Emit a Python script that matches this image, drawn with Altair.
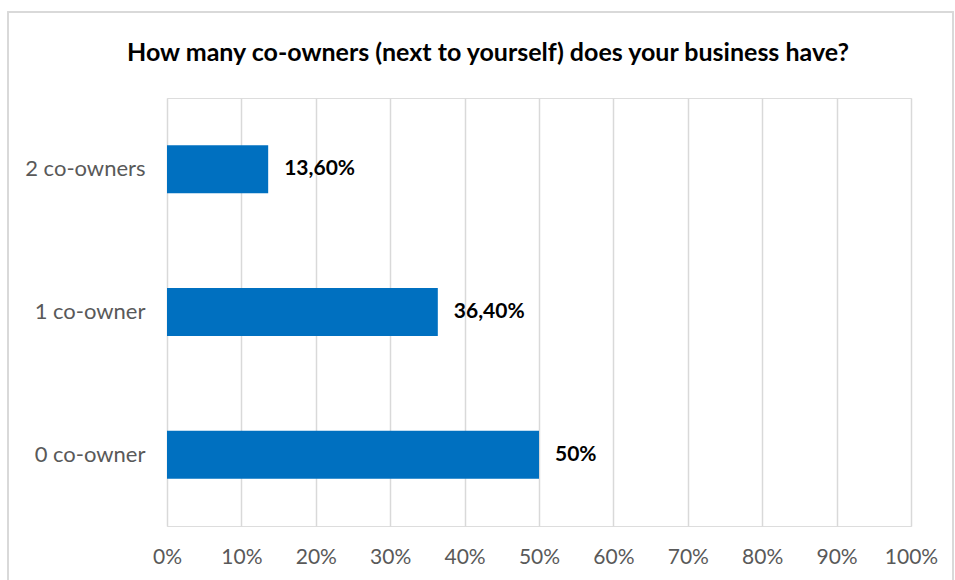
import altair as alt
import pandas as pd

categories = ["2 co-owners", "1 co-owner", "0 co-owner"]
values = [0.136, 0.364, 0.50]
labels = ["13,60%", "36,40%", "50%"]
title_text = "How many co-owners (next to yourself) does your business have?"

df = pd.DataFrame({"cat": categories, "val": values, "lab": labels})
tdf = pd.DataFrame({"t": [title_text]})

FONT = "Lato"

y_enc = alt.Y("cat:N", sort=categories, title=None,
              scale=alt.Scale(paddingInner=0.664, paddingOuter=0.332),
              axis=alt.Axis(domain=False, ticks=False, labelFontSize=22,
                            labelColor="#595959", labelPadding=22, labelFont=FONT,
                            grid=False))
x_enc = alt.X("val:Q", title=None,
              scale=alt.Scale(domain=[0, 1]),
              axis=alt.Axis(format=".0%", values=[i / 10 for i in range(11)],
                            domain=False, ticks=False, labelFontSize=21,
                            labelColor="#595959", labelPadding=20, labelFont=FONT,
                            labelFlush=False, labelOverlap=False,
                            grid=True, gridColor="#d9d9d9", gridWidth=1.5))

frame = alt.Chart(df).mark_rect(fill=None, stroke="#d9d9d9", strokeWidth=1.5).encode(
    x=alt.value(-159), x2=alt.value(786), y=alt.value(-86), y2=alt.value(700)
)

title = alt.Chart(tdf).mark_text(align="center", baseline="middle", fontSize=25,
                                 fontWeight="bold", color="#000000", font=FONT).encode(
    text="t:N", x=alt.value(321), y=alt.value(-45)
)

bars = alt.Chart(df).mark_bar(color="#0070C0").encode(y=y_enc, x=x_enc)

text = alt.Chart(df).mark_text(align="left", baseline="middle", dx=16, fontSize=21,
                               fontWeight="bold", color="#000000", font=FONT).encode(
    y=alt.Y("cat:N", sort=categories), x="val:Q", text="lab:N"
)

chart = alt.layer(frame, bars, text, title).properties(
    width=744, height=428,
    autosize=alt.AutoSizeParams(type="none"),
    padding={"left": 167, "top": 98, "right": 44, "bottom": 54},
).configure_view(stroke=None).configure(background="white")

chart.save("out.html", embed_options={"renderer": "svg", "actions": False})
